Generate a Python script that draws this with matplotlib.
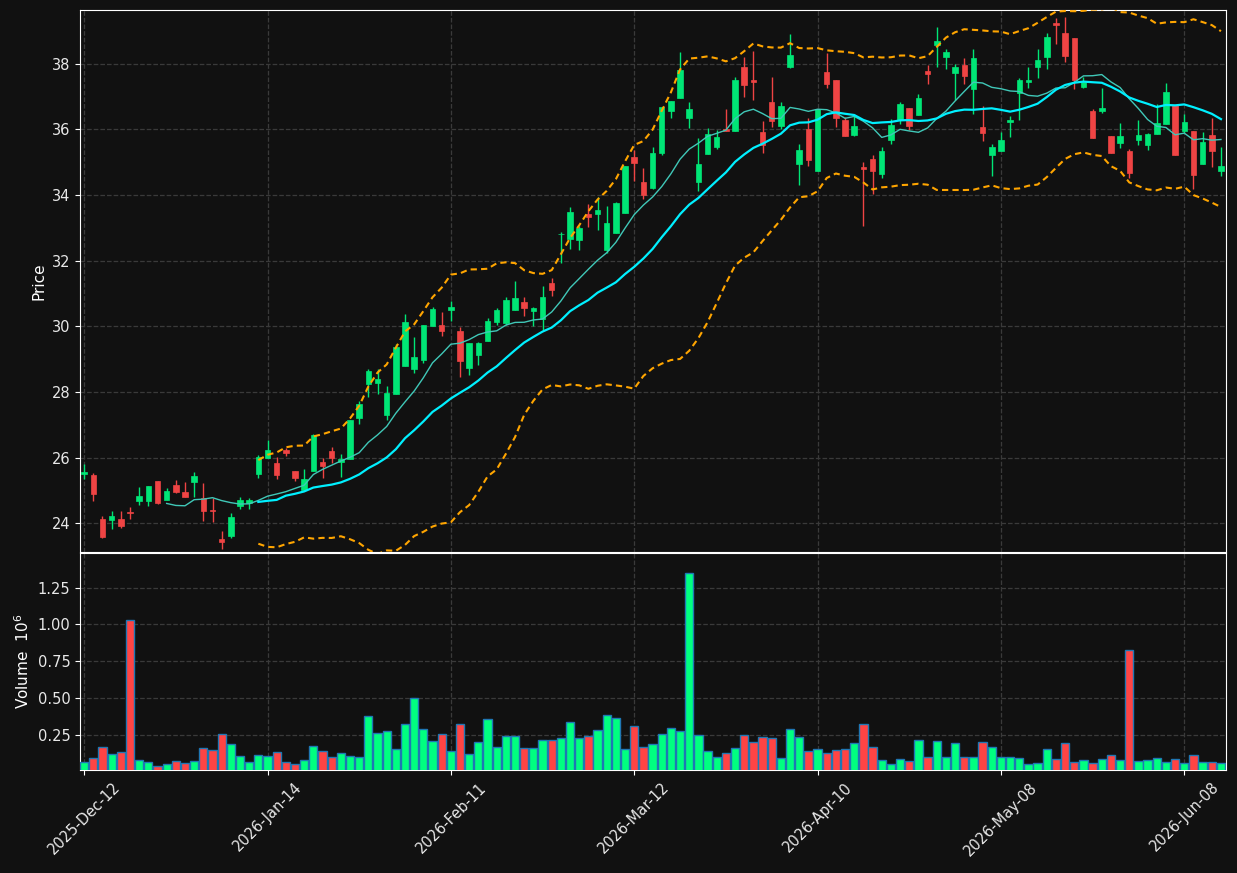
import numpy as np
import pandas as pd
import matplotlib
matplotlib.use("Agg")
import matplotlib.pyplot as plt

opens = [25.50, 25.46, 24.12, 24.09, 24.12, 24.34, 24.67, 24.67, 25.28, 24.70,
         25.16, 24.95, 25.25, 24.78, 24.41, 23.52, 23.60, 24.53, 24.60, 25.50,
         25.99, 25.84, 26.23, 25.59, 25.01, 25.59, 25.86, 26.20, 25.87, 25.97,
         27.21, 28.24, 28.28, 27.29, 27.94, 28.80, 28.70, 28.97, 30.01, 30.04,
         30.50, 29.85, 28.73, 29.13, 29.56, 30.14, 30.11, 30.50, 30.73, 30.47,
         30.21, 31.32, 32.80, 32.66, 32.63, 33.41, 33.42, 32.32, 32.85, 33.46,
         35.15, 34.40, 34.22, 35.27, 36.57, 36.97, 36.36, 34.41, 35.24, 35.46,
         36.00, 35.96, 37.89, 37.50, 35.93, 36.84, 36.11, 37.91, 34.96, 36.00,
         34.74, 37.74, 37.51, 36.29, 35.82, 34.86, 35.10, 34.64, 35.69, 36.29,
         36.64, 36.43, 37.78, 38.58, 38.21, 37.72, 37.96, 37.23, 36.06, 35.23,
         35.35, 36.22, 37.11, 37.45, 37.89, 38.22, 39.23, 38.94, 38.80, 37.28,
         36.56, 36.57, 35.80, 35.60, 35.34, 35.68, 35.52, 35.86, 36.16, 36.74,
         35.95, 35.95, 34.95, 35.83, 34.74]
highs = [25.79, 25.52, 24.22, 24.37, 24.37, 24.48, 25.09, 25.13, 25.28, 25.06,
         25.31, 25.25, 25.55, 25.21, 24.78, 23.76, 24.30, 24.79, 24.76, 26.09,
         26.53, 26.02, 26.28, 25.59, 25.64, 26.71, 26.00, 26.32, 26.12, 27.14,
         27.73, 28.69, 28.69, 28.17, 29.45, 30.37, 29.68, 30.04, 30.58, 30.44,
         30.78, 29.98, 29.48, 29.51, 30.24, 30.55, 30.88, 31.37, 30.90, 30.60,
         31.23, 31.46, 32.87, 33.64, 33.06, 33.73, 33.93, 33.67, 33.80, 34.88,
         35.37, 34.81, 35.45, 36.67, 36.87, 38.35, 36.83, 35.73, 36.05, 35.97,
         36.61, 37.60, 38.20, 38.40, 36.26, 37.59, 36.83, 38.91, 35.57, 36.34,
         36.61, 38.32, 37.51, 36.39, 36.44, 35.01, 35.23, 35.48, 36.31, 36.83,
         36.64, 37.09, 37.96, 39.11, 38.45, 37.99, 38.17, 38.44, 36.71, 35.57,
         35.91, 36.41, 37.57, 37.89, 38.44, 38.93, 39.41, 39.43, 38.80, 37.60,
         36.62, 37.27, 35.80, 36.19, 35.39, 36.28, 35.90, 36.77, 37.41, 36.74,
         36.46, 35.95, 35.93, 36.34, 35.45]
lows = [25.36, 24.68, 23.55, 23.81, 23.85, 24.12, 24.54, 24.52, 24.58, 24.70,
        24.92, 24.79, 24.80, 24.08, 24.02, 23.22, 23.55, 24.44, 24.42, 25.39,
        25.98, 25.36, 26.05, 25.29, 24.99, 25.59, 25.39, 25.82, 25.41, 25.97,
        27.01, 27.83, 27.95, 27.14, 27.94, 28.80, 28.59, 28.87, 30.01, 29.71,
        30.16, 28.44, 28.53, 28.83, 29.56, 30.04, 30.04, 30.50, 30.31, 30.02,
        29.88, 30.93, 31.93, 32.37, 32.32, 33.03, 32.95, 32.24, 32.85, 33.46,
        34.44, 33.87, 34.17, 35.22, 36.36, 36.97, 36.05, 34.13, 35.24, 35.40,
        35.94, 35.96, 36.98, 36.90, 35.27, 36.06, 36.00, 37.86, 34.30, 34.89,
        34.74, 37.25, 36.08, 35.81, 35.80, 33.07, 34.03, 34.53, 35.56, 36.16,
        35.99, 36.43, 37.38, 37.90, 37.85, 36.89, 37.38, 36.46, 35.66, 34.58,
        35.33, 35.76, 36.29, 37.25, 37.57, 37.83, 38.62, 38.05, 37.23, 37.25,
        35.73, 36.49, 35.29, 35.42, 34.53, 35.52, 35.37, 35.86, 36.16, 35.22,
        35.88, 34.20, 34.95, 34.86, 34.59]
closes = [25.56, 24.89, 23.57, 24.22, 23.91, 24.31, 24.82, 25.13, 24.62, 24.97,
          24.95, 24.79, 25.43, 24.38, 24.36, 23.42, 24.19, 24.70, 24.70, 26.01,
          26.23, 25.46, 26.14, 25.38, 25.33, 26.68, 25.75, 25.99, 25.97, 27.14,
          27.63, 28.63, 28.39, 27.96, 29.37, 30.13, 29.06, 30.04, 30.52, 29.85,
          30.59, 28.95, 29.48, 29.48, 30.16, 30.49, 30.80, 30.86, 30.57, 30.55,
          30.88, 31.10, 32.82, 33.48, 32.99, 33.34, 33.54, 33.15, 33.75, 34.88,
          34.99, 34.01, 35.27, 36.67, 36.87, 37.81, 36.62, 34.95, 35.85, 35.78,
          35.96, 37.52, 37.35, 37.46, 35.54, 36.26, 36.72, 38.27, 35.37, 35.07,
          36.61, 37.38, 36.36, 35.81, 36.12, 34.79, 34.72, 35.35, 36.13, 36.77,
          36.11, 36.97, 37.69, 38.69, 38.35, 37.90, 37.63, 38.17, 35.88, 35.45,
          35.68, 36.29, 37.52, 37.51, 38.11, 38.83, 39.18, 38.25, 37.51, 37.45,
          35.73, 36.64, 35.29, 35.80, 34.68, 35.83, 35.86, 36.19, 37.13, 35.22,
          36.24, 34.61, 35.63, 35.35, 34.88]
volumes = [0.064, 0.091, 0.170, 0.118, 0.132, 1.031, 0.077, 0.068, 0.037, 0.050,
           0.071, 0.057, 0.071, 0.159, 0.146, 0.255, 0.187, 0.105, 0.064, 0.112,
           0.105, 0.132, 0.064, 0.050, 0.077, 0.173, 0.139, 0.098, 0.125, 0.105,
           0.098, 0.377, 0.262, 0.275, 0.153, 0.323, 0.500, 0.289, 0.207, 0.255,
           0.139, 0.323, 0.118, 0.200, 0.357, 0.166, 0.241, 0.241, 0.159, 0.159,
           0.214, 0.214, 0.228, 0.336, 0.228, 0.241, 0.282, 0.384, 0.364, 0.153,
           0.309, 0.166, 0.187, 0.255, 0.296, 0.275, 1.351, 0.248, 0.139, 0.098,
           0.125, 0.159, 0.248, 0.200, 0.234, 0.228, 0.091, 0.289, 0.234, 0.139,
           0.153, 0.125, 0.146, 0.153, 0.193, 0.323, 0.166, 0.077, 0.050, 0.084,
           0.071, 0.214, 0.098, 0.207, 0.098, 0.193, 0.098, 0.098, 0.200, 0.166,
           0.098, 0.098, 0.091, 0.050, 0.057, 0.153, 0.084, 0.193, 0.064, 0.077,
           0.057, 0.084, 0.112, 0.077, 0.827, 0.071, 0.077, 0.091, 0.064, 0.084,
           0.057, 0.112, 0.064, 0.064, 0.057]
tick_labels = ["2025-Dec-12", "2026-Jan-14", "2026-Feb-11", "2026-Mar-12",
               "2026-Apr-10", "2026-May-08", "2026-Jun-08"]
tick_step = 20

BG = "#111111"
UP = "#00e676"
DOWN = "#ef4444"
VUP = "#00ff80"
VDOWN = "#ff4444"
GRID = "#3a3a3a"

o = np.array(opens); h = np.array(highs); l = np.array(lows); c = np.array(closes)
v = np.array(volumes)
n = len(c)
x = np.arange(n)
up = c >= o

close_s = pd.Series(c)
ma10 = close_s.rolling(10).mean()
ma20 = close_s.rolling(20).mean()
sd20 = close_s.rolling(20).std()
bb_up = ma20 + 2 * sd20
bb_lo = ma20 - 2 * sd20

plt.rcParams['font.family'] = ['DejaVu Sans']
fig = plt.figure(figsize=(12.37, 8.73), dpi=100, facecolor=BG)
ax = fig.add_axes([0.0647, 0.3677, 0.9264, 0.6208], facecolor=BG)
axv = fig.add_axes([0.0647, 0.1180, 0.9264, 0.2486], facecolor=BG, sharex=ax)

colors = np.where(up, UP, DOWN)
ax.vlines(x, l, h, colors=colors, linewidth=1.0, zorder=3)
body_h = np.maximum(np.abs(c - o), 0.02)
ax.bar(x, body_h, bottom=np.minimum(o, c), width=0.6, color=colors,
       edgecolor=colors, linewidth=0.5, zorder=4)

ax.plot(x, ma10, color="#40c8b8", linewidth=1.0, zorder=5)
ax.plot(x, ma20, color="#00f0ff", linewidth=1.6, zorder=5)
ax.plot(x, bb_up, color="#ffa500", linewidth=1.5, linestyle=(0, (3, 2)), zorder=5)
ax.plot(x, bb_lo, color="#ffa500", linewidth=1.5, linestyle=(0, (3, 2)), zorder=5)

vcolors = np.where(up, VUP, VDOWN)
axv.bar(x, v, width=0.9, color=vcolors, edgecolor="#1f77b4", linewidth=1.0, zorder=3)

ax.set_xlim(-0.45, n - 0.45)
ax.set_ylim(23.12, 39.64)
axv.set_ylim(0.3 * v.min(), 1.1 * v.max())

ax.set_yticks([24, 26, 28, 30, 32, 34, 36, 38])
axv.set_yticks([0.25, 0.50, 0.75, 1.00, 1.25])
ticks = list(range(0, n, tick_step))[:len(tick_labels)]
axv.set_xticks(ticks)
axv.set_xticklabels(tick_labels, rotation=45, ha="center")
plt.setp(ax.get_xticklabels(), visible=False)
ax.tick_params(axis="x", length=0)

for a in (ax, axv):
    a.grid(True, color=GRID, linestyle="--", linewidth=0.9)
    a.set_axisbelow(True)
    for s in a.spines.values():
        s.set_color("white")
    a.tick_params(colors="white", labelsize=10.5)
    for t in a.get_xticklabels() + a.get_yticklabels():
        t.set_color("#e8e8e8")

ax.set_ylabel("Price", color="white", fontsize=11)
axv.set_ylabel("Volume  $10^{6}$", color="white", fontsize=11)

fig.savefig("out.png", dpi=100, facecolor=BG)
